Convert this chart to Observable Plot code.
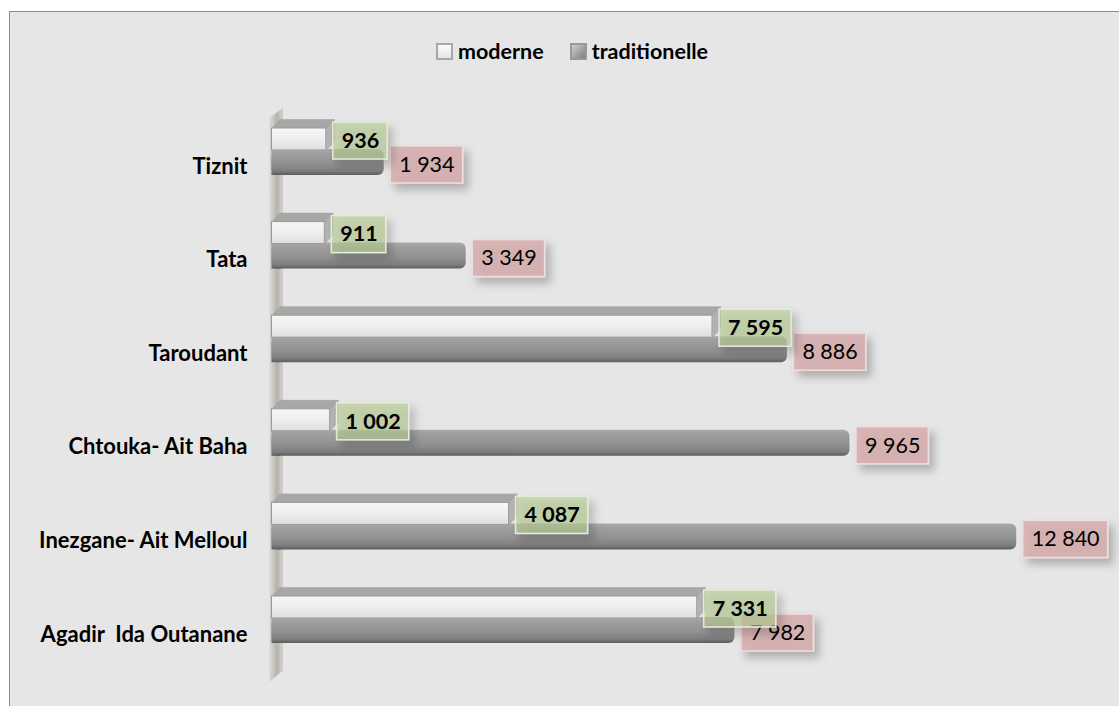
<!DOCTYPE html>
<html>
<head>
<meta charset="utf-8">
<script src="https://cdn.jsdelivr.net/npm/d3@7"></script>
<script src="https://cdn.jsdelivr.net/npm/@observablehq/plot@0.6"></script>
<style>
  html, body { margin: 0; padding: 0; background: #ffffff; overflow: hidden; }
  #wrap { position: relative; width: 1119px; height: 706px; overflow: hidden; font-family: Lato, "Open Sans", sans-serif; }
  #frame { position: absolute; left: 9px; top: 11px; width: 1200px; height: 800px; background: #e6e6e6; border: 1px solid #8e8e8e; }
  #chart { position: absolute; left: 0; top: 0; }
  #chart svg text { white-space: pre; }
  #legend { position: absolute; top: 40px; left: 436px; display: flex; align-items: center; font-weight: 700; font-size: 21.5px; line-height: 22px; color: #000; }
  .sw { display: inline-block; width: 13px; height: 13px; margin-right: 5px; box-sizing: content-box; }
  .sw1 { background: linear-gradient(#fbfbfb, #e6e6e6); border: 2px solid #a8a8a8; }
  .sw2 { background: linear-gradient(135deg, #d0d0d0, #7e7e7e); border: 2px solid #999999; margin-left: 26px; }
</style>
</head>
<body>
<div id="wrap">
  <div id="frame"></div>
  <div id="chart"></div>
  <div id="legend"><span class="sw sw1"></span><span>moderne</span><span class="sw sw2"></span><span>traditionelle</span></div>
</div>
<script>
// ---- data ----
const categories = ["Tiznit", "Tata", "Taroudant", "Chtouka- Ait Baha", "Inezgane- Ait Melloul", "Agadir  Ida Outanane"];
const moderne = [936, 911, 7595, 1002, 4087, 7331];
const traditionelle = [1934, 3349, 8886, 9965, 12840, 7982];
const seriesNames = ["moderne", "traditionelle"];

// ---- helpers ----
const fmt = n => String(n).replace(/\B(?=(\d{3})+(?!\d))/g, " ");
const kx = 0.058;           // px per value unit
const ky = 93.6;            // px per category step
const pxu = p => p / kx;    // pixel offset -> value units
const py = p => p / ky;     // pixel offset -> category units
const FS = 21.5;

const canvas = document.createElement("canvas");
const ctx = canvas.getContext("2d");
function textW(s, bold) { ctx.font = (bold ? "bold " : "") + FS + "px Lato"; return ctx.measureText(s).width; }

const rows = categories.map((name, i) => {
  const modLabel = fmt(moderne[i]), tradLabel = fmt(traditionelle[i]);
  return {
    name, i, mod: moderne[i], trad: traditionelle[i], modLabel, tradLabel,
    modBoxW: textW(modLabel, true) + 17,
    tradBoxW: textW(tradLabel, false) + 17
  };
});

// 3D wall of the category axis
const wall = [
  {x: pxu(-1.5), y: py(-30)}, {x: pxu(10.5), y: py(-39)},
  {x: pxu(10.5), y: 5 + py(55)}, {x: pxu(-1.5), y: 5 + py(65)}
];
// top bevel and right side of the "moderne" bars
const bevel = rows.flatMap(d => [
  {z: d.i, x: 0, y: d.i + py(-19)}, {z: d.i, x: pxu(8), y: d.i + py(-28)},
  {z: d.i, x: d.mod + pxu(8), y: d.i + py(-28)}, {z: d.i, x: d.mod, y: d.i + py(-19)}
]);
const side = rows.flatMap(d => [
  {z: d.i, x: d.mod, y: d.i + py(-19)}, {z: d.i, x: d.mod + pxu(8), y: d.i + py(-28)},
  {z: d.i, x: d.mod + pxu(8), y: d.i + py(-6)}, {z: d.i, x: d.mod, y: d.i + py(3)}
]);

const chart = Plot.plot({
  width: 1119,
  height: 706,
  marginLeft: 271.5, marginRight: 0, marginTop: 0, marginBottom: 0,
  style: {background: "transparent", overflow: "visible", fontFamily: "Lato, sans-serif"},
  x: {domain: [0, 14000], range: [271.5, 271.5 + 14000 * kx], axis: null},
  y: {domain: [0, 5], range: [147, 147 + 5 * ky], axis: null},
  marks: [
    Plot.line(wall, {x: "x", y: "y", fill: "url(#wallGrad)", stroke: "#b9b7b0", strokeWidth: 0.5, curve: "linear-closed"}),
    // traditionelle bars (rounded end + square start at the wall)
    Plot.rect(rows, {x1: () => 0, x2: d => d.trad, y1: d => d.i + py(2), y2: d => d.i + py(28), fill: "url(#tradGrad)", rx: 6}),
    Plot.rect(rows, {x1: () => 0, x2: () => pxu(9), y1: d => d.i + py(2), y2: d => d.i + py(28), fill: "url(#tradGrad)"}),
    // moderne bars
    Plot.line(bevel, {x: "x", y: "y", z: "z", fill: "#a7a7a7", stroke: "#9c9c9c", strokeWidth: 0.5, curve: "linear-closed"}),
    Plot.line(side, {x: "x", y: "y", z: "z", fill: "#b3b3b3", stroke: "#a0a0a0", strokeWidth: 0.5, curve: "linear-closed"}),
    Plot.rect(rows, {x1: () => 0, x2: d => d.mod, y1: d => d.i + py(-19), y2: d => d.i + py(3), fill: "url(#modGrad)", stroke: "#9a9a9a", strokeWidth: 1}),
    // traditionelle labels
    Plot.rect(rows, {x1: d => d.trad, x2: d => d.trad + pxu(d.tradBoxW), dx: 6.5, y1: d => d.i + py(-1), y2: d => d.i + py(36), fill: "#d6adad", fillOpacity: 0.85, stroke: "#eedddd", strokeWidth: 1.5}),
    Plot.text(rows, {x: "trad", dx: 15, y: d => d.i + py(17.5), text: "tradLabel", textAnchor: "start", lineAnchor: "middle", fontSize: FS, fill: "#000"}),
    // moderne labels
    Plot.rect(rows, {x1: d => d.mod, x2: d => d.mod + pxu(d.modBoxW), dx: 7, y1: d => d.i + py(-25), y2: d => d.i + py(12), fill: "#b5cb92", fillOpacity: 0.62, stroke: "#e4ebd8", strokeWidth: 1.5}),
    Plot.text(rows, {x: "mod", dx: 15.5, y: d => d.i + py(-6.5), text: "modLabel", textAnchor: "start", lineAnchor: "middle", fontSize: FS, fontWeight: "bold", fill: "#000"}),
    // category labels
    Plot.text(rows, {frameAnchor: "left", y: d => d.i + py(19), text: "name", dx: -24.5, textAnchor: "end", lineAnchor: "middle", fontSize: 22, fontWeight: "bold", fill: "#000"})
  ]
});

d3.select(chart).insert("defs", ":first-child").html(`
  <linearGradient id="tradGrad" x1="0" y1="0" x2="0" y2="1">
    <stop offset="0" stop-color="#ababab"/>
    <stop offset="0.15" stop-color="#a0a0a0"/>
    <stop offset="0.6" stop-color="#8f8f8f"/>
    <stop offset="0.85" stop-color="#7d7d7d"/>
    <stop offset="1" stop-color="#5c5c5c"/>
  </linearGradient>
  <linearGradient id="modGrad" x1="0" y1="0" x2="0" y2="1">
    <stop offset="0" stop-color="#f6f6f6"/>
    <stop offset="0.5" stop-color="#eeeeee"/>
    <stop offset="1" stop-color="#dedede"/>
  </linearGradient>
  <linearGradient id="wallGrad" x1="0" y1="0" x2="1" y2="0">
    <stop offset="0" stop-color="#d9d7d1"/>
    <stop offset="0.55" stop-color="#b3b1a9"/>
    <stop offset="1" stop-color="#d6d4ce"/>
  </linearGradient>
  <filter id="shadow" x="-30%" y="-30%" width="170%" height="190%">
    <feDropShadow dx="5" dy="6" stdDeviation="4" flood-color="#000" flood-opacity="0.28"/>
  </filter>
`);
d3.select(chart).selectAll('g[fill="#d6adad"], g[fill="#b5cb92"]').attr("filter", "url(#shadow)");

document.getElementById("chart").appendChild(chart);
</script>
</body>
</html>
